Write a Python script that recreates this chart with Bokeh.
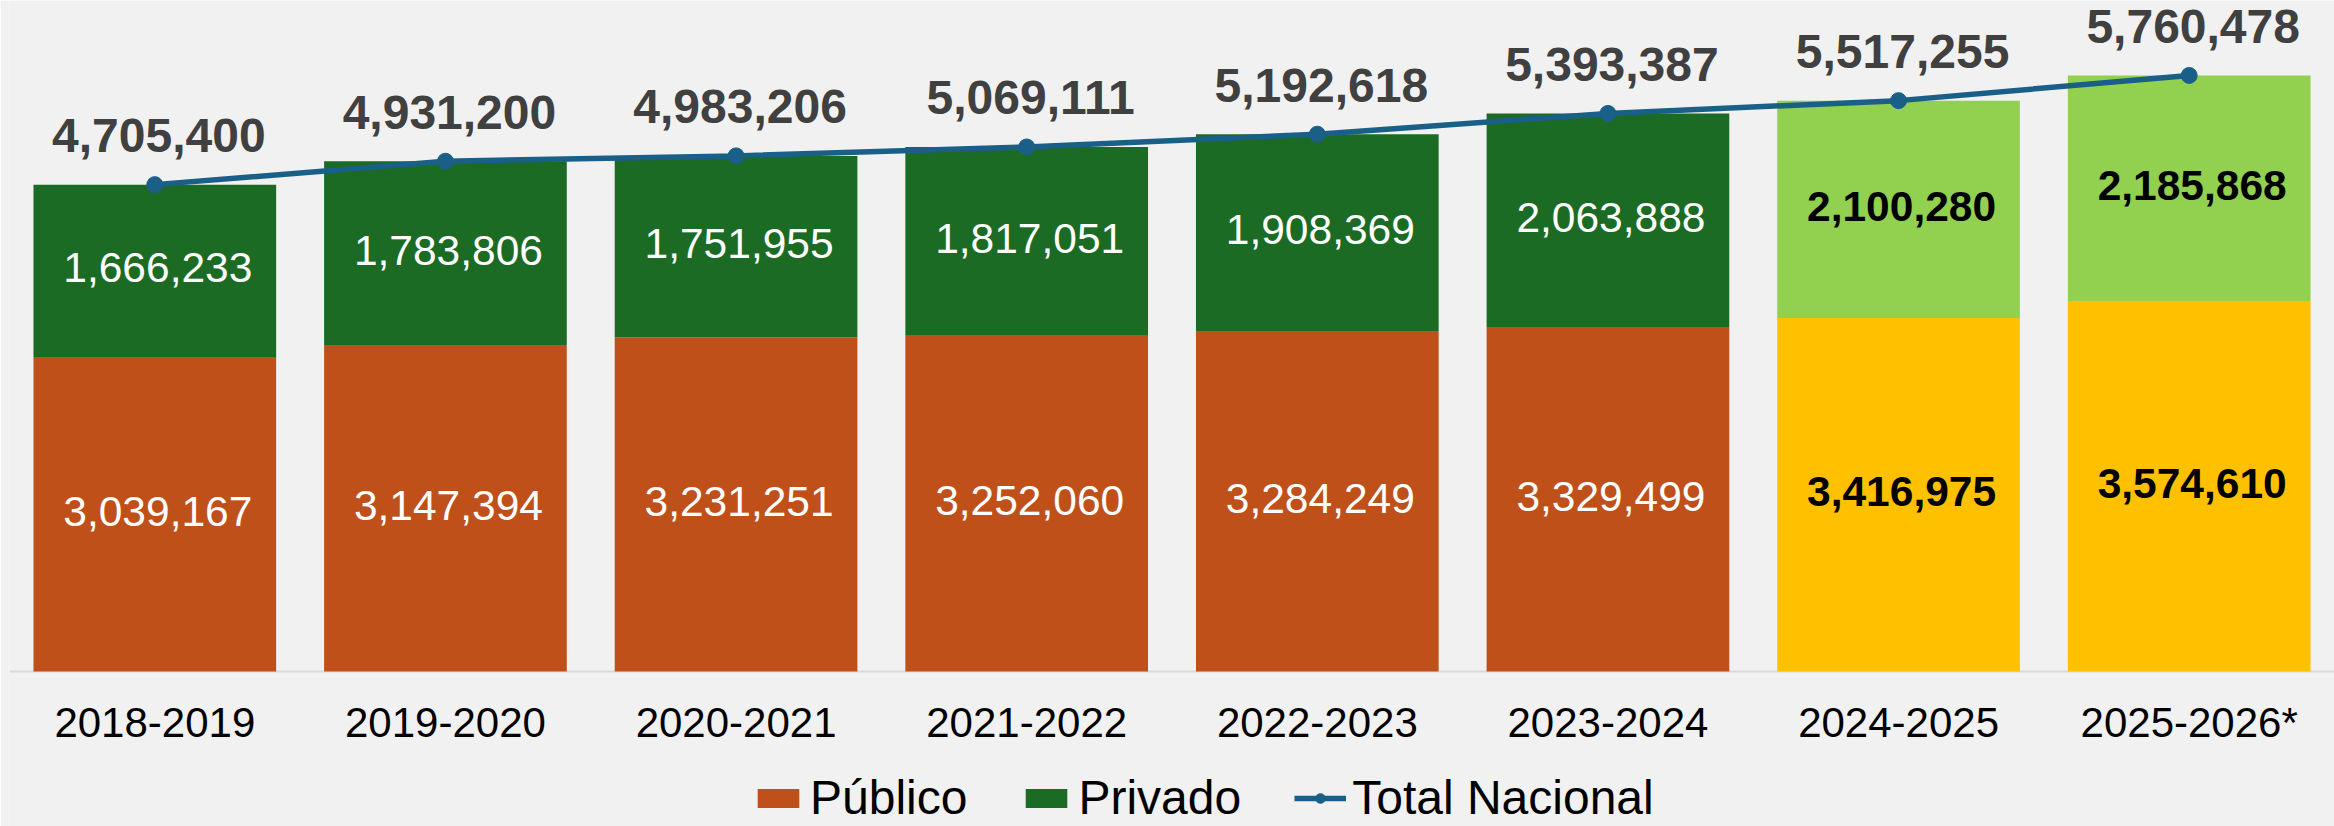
from bokeh.plotting import figure
from bokeh.models import ColumnDataSource, Range1d, Legend, LegendItem, Span
from bokeh.core.properties import value
from bokeh.embed import file_html
from bokeh.resources import INLINE

# ---- data ----
ciclos = ["2018-2019", "2019-2020", "2020-2021", "2021-2022",
          "2022-2023", "2023-2024", "2024-2025", "2025-2026*"]
publico = [3039167, 3147394, 3231251, 3252060, 3284249, 3329499, 3416975, 3574610]
privado = [1666233, 1783806, 1751955, 1817051, 1908369, 2063888, 2100280, 2185868]
total = [4705400, 4931200, 4983206, 5069111, 5192618, 5393387, 5517255, 5760478]
proyectado = [False, False, False, False, False, False, True, True]

# ---- styles ----
C_PUB, C_PUB_P = "#C0501A", "#FFC000"
C_PRI, C_PRI_P = "#1B6B25", "#92D050"
C_LINE = "#1A5F87"
BG = "#F0F1F0"
FONT = "Liberation Sans"

pub_col = [C_PUB_P if p else C_PUB for p in proyectado]
pri_col = [C_PRI_P if p else C_PRI for p in proyectado]
in_txt_col = ["#000000" if p else "#FFFFFF" for p in proyectado]
in_txt_style = ["bold" if p else "normal" for p in proyectado]

fmt = lambda v: f"{v:,}"

src = ColumnDataSource(dict(
    ciclo=ciclos, publico=publico, privado=privado, total=total,
    pub_col=pub_col, pri_col=pri_col,
    pub_mid=[v / 2 for v in publico],
    pri_mid=[a + b / 2 for a, b in zip(publico, privado)],
    pub_lbl=[fmt(v) for v in publico],
    pri_lbl=[fmt(v) for v in privado],
    tot_lbl=[fmt(v) for v in total],
    in_col=in_txt_col, in_style=in_txt_style,
    base=[0] * len(ciclos),
))

PX_PER_UNIT = 1.0347e-4
FRAME_H = 826
AXIS_Y = 671
p = figure(x_range=ciclos,
           y_range=Range1d(-(FRAME_H - AXIS_Y) / PX_PER_UNIT, AXIS_Y / PX_PER_UNIT),
           width=2334, height=FRAME_H, output_backend="svg",
           toolbar_location=None, x_axis_location=None, y_axis_location=None,
           min_border_left=9, min_border_right=0,
           min_border_top=0, min_border_bottom=0)
p.x_range.range_padding = 0
p.background_fill_color = BG
p.border_fill_color = BG
p.outline_line_color = None
p.grid.visible = False

# baseline (category axis line)
p.add_layout(Span(location=0, dimension="width", line_color="#D9D9D9",
                  line_width=2, level="underlay"))

W = 0.835
r_pub = p.vbar(x="ciclo", bottom=0, top="publico", width=W, source=src,
               fill_color="pub_col", line_color=None)
r_pri = p.vbar(x="ciclo", bottom="publico", top="total", width=W, source=src,
               fill_color="pri_col", line_color=None)

r_line = p.line(x="ciclo", y="total", source=src, line_color=C_LINE, line_width=5.5)
r_pts = p.scatter(x="ciclo", y="total", source=src, size=16,
                  fill_color=C_LINE, line_color=C_LINE)

# labels inside bars
p.text(x="ciclo", y="pub_mid", text="pub_lbl", source=src, x_offset=3, y_offset=-3,
       text_font=value(FONT), text_font_size="42.5px", text_color="in_col",
       text_font_style="in_style", text_align="center", text_baseline="middle")
p.text(x="ciclo", y="pri_mid", text="pri_lbl", source=src, x_offset=3, y_offset=-3,
       text_font=value(FONT), text_font_size="42.5px", text_color="in_col",
       text_font_style="in_style", text_align="center", text_baseline="middle")
# total labels
p.text(x="ciclo", y="total", text="tot_lbl", source=src, x_offset=4, y_offset=-49,
       text_font=value(FONT), text_font_size="48px", text_color="#404040",
       text_font_style="bold", text_align="center", text_baseline="middle")
# category labels
p.text(x="ciclo", y="base", text="ciclo", source=src, y_offset=51,
       text_font=value(FONT), text_font_size="42px", text_color="#000000",
       text_align="center", text_baseline="middle")

legend = Legend(items=[
    LegendItem(label="Público", renderers=[r_pub]),
    LegendItem(label="Privado", renderers=[r_pri]),
    LegendItem(label="Total Nacional", renderers=[r_line, r_pts]),
], orientation="horizontal", location=(743, 1),
    glyph_width=52, glyph_height=24, label_standoff=6, spacing=53,
    padding=0, margin=0, border_line_color=None,
    background_fill_alpha=0,
    label_text_font=FONT, label_text_font_size="48px", label_text_color="#000000")
p.add_layout(legend)

open("out.html", "w").write(file_html(p, INLINE))
